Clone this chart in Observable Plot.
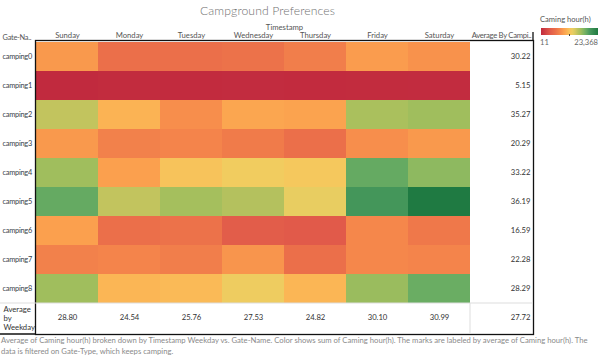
<!DOCTYPE html>
<html>
<head>
<meta charset="utf-8">
<script src="https://cdn.jsdelivr.net/npm/d3@7"></script>
<script src="https://cdn.jsdelivr.net/npm/@observablehq/plot@0.6"></script>
<style>
  html, body { margin: 0; padding: 0; background: #fff; }
  #wrap { position: relative; width: 600px; height: 356px; overflow: hidden; font-family: Lato, "Open Sans", sans-serif; }
  #wrap svg { position: absolute; left: 0; top: 0; }
  #title { position: absolute; left: 0; width: 535px; top: 3px; text-align: center; font-size: 12.2px; font-weight: 300; color: #707070; letter-spacing: 0.1px; }
  #legend { position: absolute; left: 540px; top: 14px; width: 60px; font-size: 7.6px; color: #555; }
  #legend .lt { font-size: 7.6px; color: #555; white-space: nowrap; }
  #legend .bar { position: relative; margin-top: 4px; height: 7px; width: 57px; margin-left: 1px; }
  #legend .tick { position: absolute; left: 28px; top: 6px; width: 1px; height: 2px; background: #444; }
  #legend .lab { display: flex; justify-content: space-between; margin-top: 2px; color: #666; font-size: 7.6px; width: 58px; }
  #caption { position: absolute; left: 1px; top: 335px; width: 598px; font-size: 7.7px; line-height: 10.5px; color: #8a8a8a; }
</style>
</head>
<body>
<div id="wrap">
  <div id="title">Campground Preferences</div>
  <div id="legend"></div>
  <div id="caption"></div>
</div>
<script>
// ---- data ----
const days = ["Sunday", "Monday", "Tuesday", "Wednesday", "Thursday", "Friday", "Saturday"];
const gates = ["camping0", "camping1", "camping2", "camping3", "camping4", "camping5", "camping6", "camping7", "camping8"];
// estimated sum of Caming hour(h) per gate (rows) and weekday (columns), from cell colours
const hourSums = [
  [8880, 5850, 5870, 6080, 7020, 9120, 8420],
  [11, 140, 120, 160, 90, 130, 170],
  [14720, 10750, 8180, 9810, 9580, 15890, 16360],
  [8880, 7250, 7490, 6780, 5850, 8180, 8880],
  [16360, 9350, 11690, 12390, 11920, 18690, 17060],
  [18690, 14720, 16120, 15420, 13090, 20330, 23368],
  [9350, 5850, 6080, 3980, 3750, 7720, 6550],
  [7250, 7490, 7020, 8650, 5850, 7720, 7490],
  [16360, 10990, 11220, 12620, 10990, 16590, 18460]
];
const gateAverages = [30.22, 5.15, 35.27, 20.29, 33.22, 36.19, 16.59, 22.28, 28.29];
const weekdayAverages = [28.80, 24.54, 25.76, 27.53, 24.82, 30.10, 30.99];
const overallAverage = 27.72;
const colorMin = 11, colorMax = 23368;
const avgColLabel = "Average By Campi..";
const avgRowKey = "Average\nby\nWeekday";
const titleText = "Caming hour(h)";
const captionText = "Average of Caming hour(h) broken down by Timestamp Weekday vs. Gate-Name.  Color shows sum of Caming hour(h).  The marks are labeled by average of Caming hour(h). The data is filtered on Gate-Type, which keeps camping.";

// ---- palette (Tableau red-green diverging, sampled) ----
const paletteStops = [0, 0.15, 0.25, 0.33, 0.40, 0.47, 0.52, 0.58, 0.63, 0.70, 0.78, 0.85, 1];
const paletteColors = ["#c12a3e", "#e0584a", "#eb6f4a", "#f5874b", "#fba04e", "#fbb655", "#f4cc5f", "#e2cd62", "#c2c45e", "#a0be5d", "#6fb064", "#4a9a5e", "#1f7a42"];
const colorDomain = paletteStops.map(t => colorMin + t * (colorMax - colorMin));

// ---- build tidy table ----
const cells = [];
gates.forEach((g, i) => days.forEach((d, j) => cells.push({gate: g, day: d, value: hourSums[i][j]})));
const rowAvg = gates.map((g, i) => ({gate: g, v: gateAverages[i]}));
const colAvg = days.map((d, j) => ({day: d, v: weekdayAverages[j]}));

const fmt = d3.format(".2f");
const W = 600, H = 356;
const mL = 35, mR = 67, mT = 40, mB = 22;
const fs = 7.7;

const chart = Plot.plot({
  width: W, height: H,
  marginLeft: mL, marginRight: mR, marginTop: mT, marginBottom: mB,
  style: {fontFamily: "Lato, 'Open Sans', sans-serif", fontSize: fs + "px", color: "#555", background: "transparent"},
  x: {domain: [...days, avgColLabel], padding: 0, axis: "top", tickSize: 0, tickPadding: 3, label: null},
  y: {domain: [...gates, avgRowKey], padding: 0, axis: null},
  color: {type: "linear", domain: colorDomain, range: paletteColors, interpolate: "rgb"},
  marks: [
    Plot.cell(cells, {x: "day", y: "gate", fill: "value"}),
    Plot.text(rowAvg, {x: () => avgColLabel, y: "gate", text: d => fmt(d.v), textAnchor: "end", dx: 29, fill: "#333", fontSize: fs}),
    Plot.text(colAvg, {x: "day", y: () => avgRowKey, text: d => fmt(d.v), fill: "#333", fontSize: fs}),
    Plot.text([overallAverage], {x: () => avgColLabel, y: () => avgRowKey, text: d => fmt(d), textAnchor: "end", dx: 29, fill: "#333", fontSize: fs}),
    Plot.text(gates, {y: d => d, frameAnchor: "left", textAnchor: "start", dx: -33, fill: "#3a3f4a", fontSize: 7.4}),
    Plot.text([avgRowKey], {y: d => d, frameAnchor: "left", textAnchor: "start", dx: -32, fill: "#333", fontSize: fs, lineHeight: 1.15}),
    Plot.text(["Timestamp"], {frameAnchor: "top", dy: -16, fill: "#555", fontSize: fs}),
    Plot.text(["Gate-Na.."], {frameAnchor: "top-left", dx: -33, dy: -6, textAnchor: "start", fill: "#555", fontSize: 7.4}),
    Plot.frame({stroke: "#111", strokeWidth: 1.3})
  ]
});

// decoration lines, positioned from the plot's own scales
const xs = chart.scale("x"), ys = chart.scale("y");
const svg = d3.select(chart);
const yAvgTop = ys.apply ? ys.apply(avgRowKey) : (H - mB - (H - mT - mB) / 10);
const xAvgCol = xs.apply ? xs.apply(avgColLabel) : (W - mR - (W - mL - mR) / 8);
svg.append("line").attr("x1", 0).attr("x2", W - mR).attr("y1", yAvgTop).attr("y2", yAvgTop).attr("stroke", "#ddd").attr("stroke-width", 1);
svg.append("line").attr("x1", xAvgCol).attr("x2", xAvgCol).attr("y1", yAvgTop).attr("y2", H - mB).attr("stroke", "#ddd").attr("stroke-width", 1);
svg.append("line").attr("x1", 0).attr("x2", mL).attr("y1", H - mB).attr("y2", H - mB).attr("stroke", "#111").attr("stroke-width", 1.3);
svg.append("line").attr("x1", W - mR).attr("x2", W - mR).attr("y1", mT - 8).attr("y2", mT).attr("stroke", "#111").attr("stroke-width", 1.3);
// slightly tighter tracking on the narrow labels
svg.selectAll("text").filter(function() { return gates.includes(this.textContent) || this.textContent === "Gate-Na.."; }).style("letter-spacing", "-0.25px");
svg.selectAll("text").filter(function() { return this.textContent === avgColLabel; }).style("letter-spacing", "-0.3px");

document.getElementById("wrap").appendChild(chart);

// legend
const leg = document.getElementById("legend");
const samp = d3.scaleLinear().domain(colorDomain).range(paletteColors).interpolate(d3.interpolateRgb);
const stops = d3.range(0, 1.0001, 0.05).map(t => `${samp(colorMin + t * (colorMax - colorMin))} ${(t * 100).toFixed(0)}%`);
leg.innerHTML = `<div class="lt">${titleText}</div>
  <div class="bar" style="background: linear-gradient(to right, ${stops.join(",")});"><div class="tick"></div></div>
  <div class="lab"><span>${d3.format(",")(colorMin)}</span><span>${d3.format(",")(colorMax)}</span></div>`;
document.getElementById("caption").textContent = captionText;
</script>
</body>
</html>
